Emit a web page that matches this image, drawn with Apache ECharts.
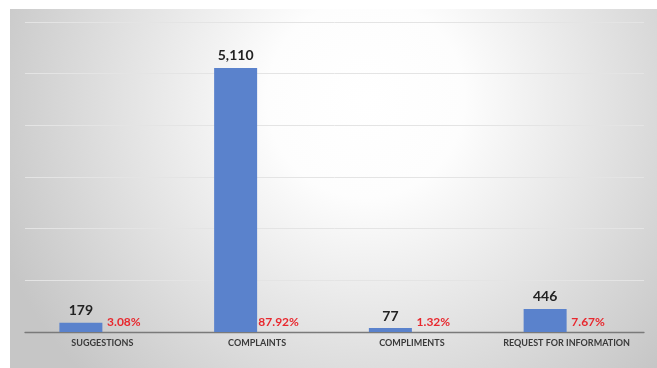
<!DOCTYPE html>
<html>
<head>
<meta charset="utf-8">
<script src="https://cdn.jsdelivr.net/npm/echarts@6/dist/echarts.min.js"></script>
<style>
  html, body { margin: 0; padding: 0; background: #ffffff; }
  #chart { position: absolute; left: 10px; top: 9px; width: 647px; height: 359px; }
</style>
</head>
<body>
<div id="chart"></div>
<script>
// Request counts by type, with each type's share of the total
const categories = ['SUGGESTIONS', 'COMPLAINTS', 'COMPLIMENTS', 'REQUEST FOR INFORMATION'];
const counts = [179, 5110, 77, 446];
const shares = [3.08, 87.92, 1.32, 7.67];
const yTicks = { min: 0, max: 6000, interval: 1000 };

const chart = echarts.init(document.getElementById('chart'));

const fmtThousands = v => String(v).replace(/\B(?=(\d{3})+(?!\d))/g, ',');

chart.setOption({
  backgroundColor: new echarts.graphic.RadialGradient(0.55, 0.25, 1.1, [
    { offset: 0, color: '#ffffff' },
    { offset: 0.25, color: '#fdfdfd' },
    { offset: 1, color: '#c6c6c6' }
  ]),
  animation: false,
  grid: { left: 15, right: 13, top: 13, bottom: 36, containLabel: false },
  xAxis: {
    type: 'category',
    data: categories,
    axisLine: { show: true, lineStyle: { color: '#7a7a7a', width: 1.3 } },
    axisTick: { show: false },
    axisLabel: {
      fontFamily: 'Lato',
      fontWeight: 'bold',
      fontSize: 9,
      color: '#3a3a3a',
      margin: 7,
      interval: 0
    }
  },
  yAxis: {
    type: 'value',
    min: yTicks.min,
    max: yTicks.max,
    interval: yTicks.interval,
    axisLabel: { show: false },
    axisLine: { show: false },
    axisTick: { show: false },
    splitLine: { show: true, lineStyle: { color: '#e4e4e4', width: 1 } }
  },
  series: [
    {
      name: 'Count',
      type: 'bar',
      data: counts,
      barWidth: 43,
      barGap: '0%',
      itemStyle: { color: '#5a82cc' },
      label: {
        show: true,
        position: 'top',
        distance: 5,
        fontFamily: 'Lato',
        fontWeight: 'bold',
        fontSize: 14,
        color: '#222222',
        formatter: p => fmtThousands(p.value)
      }
    },
    {
      name: 'Share',
      type: 'bar',
      data: shares,
      barWidth: 43,
      itemStyle: { color: 'rgba(0,0,0,0)' },
      label: {
        show: true,
        position: 'insideBottom',
        distance: 4,
        fontFamily: 'Lato',
        fontWeight: 'bold',
        fontSize: 12,
        color: '#e8282e',
        formatter: p => p.value.toFixed(2) + '%'
      }
    }
  ]
});
</script>
</body>
</html>
